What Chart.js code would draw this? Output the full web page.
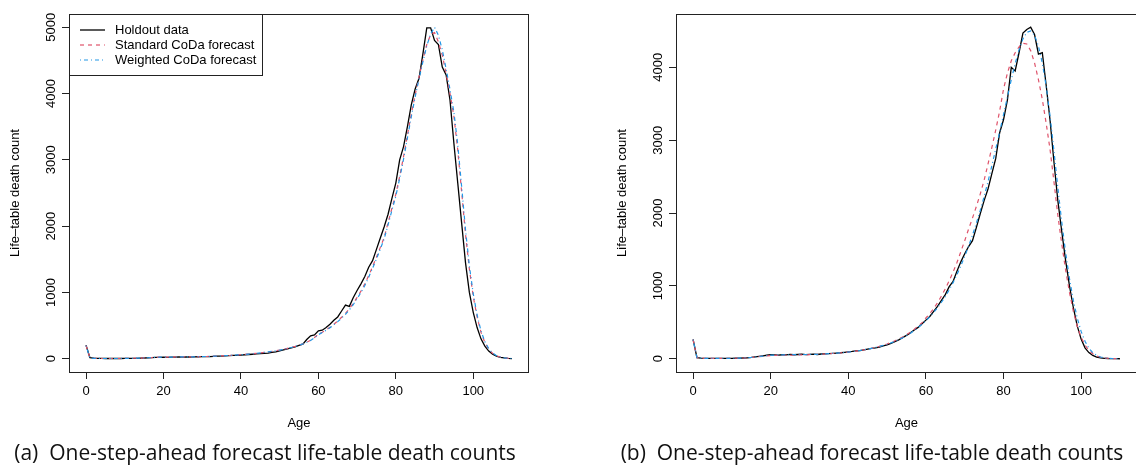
<!DOCTYPE html>
<html lang="en">
<head>
<meta charset="UTF-8">
<title>One-step-ahead forecast life-table death counts</title>
<script src="https://cdn.jsdelivr.net/npm/chart.js"></script>
<style>
  body { margin: 0; background: #fff; width: 1136px; height: 473px; overflow: hidden; position: relative; }
  .panel { position: absolute; top: 0; }
  .caption {
    position: absolute; top: 440px; height: 24px; line-height: 24px;
    font-family: "Open Sans", "Noto Sans", sans-serif; font-size: 21px; color: #111;
    white-space: pre; text-align: center;
  }
</style>
</head>
<body>
<div class="panel" style="left:0px"><canvas id="chartA" width="560" height="440"></canvas></div>
<div class="panel" style="left:607px"><canvas id="chartB" width="530" height="440"></canvas></div>
<div class="caption" style="left:0px;width:530px">(a)  One-step-ahead forecast life-table death counts</div>
<div class="caption" style="left:612px;width:520px">(b)  One-step-ahead forecast life-table death counts</div>

<script>
// ages 0..110
const ages = Array.from({ length: 111 }, (_, i) => i);
const xTicks = [0, 20, 40, 60, 80, 100];
const yTicksA = [0, 1000, 2000, 3000, 4000, 5000];
const yTicksB = [0, 1000, 2000, 3000, 4000];
const seriesNames = ['Holdout data', 'Standard CoDa forecast', 'Weighted CoDa forecast'];

// panel (a)
const holdoutA = [
  205, 15, 8, 6, 5, 4, 4, 4, 4, 4,
  5, 5, 6, 7, 9, 11, 14, 17, 20, 22,
  24, 22, 25, 24, 26, 25, 27, 26, 28, 30,
  31, 33, 32, 36, 38, 40, 44, 46, 50, 52,
  56, 60, 64, 68, 72, 76, 82, 85, 95, 105,
  120, 135, 150, 165, 180, 200, 220, 290, 345, 360,
  420, 430, 470, 520, 580, 630, 720, 810, 790, 920,
  1030, 1130, 1240, 1380, 1480, 1650, 1820, 1990, 2180, 2420,
  2650, 3000, 3200, 3500, 3830, 4070, 4230, 4600, 4990, 4990,
  4800, 4740, 4400, 4280, 3900, 3250, 2650, 2050, 1450, 1000,
  700, 470, 300, 190, 115, 70, 40, 22, 12, 6, 3
];
const standardA = [
  200, 12, 7, 5, 4, 4, 4, 4, 4, 4,
  5, 6, 7, 8, 10, 12, 15, 18, 21, 23,
  24, 25, 25, 26, 26, 27, 27, 28, 29, 30,
  32, 34, 36, 38, 40, 43, 46, 49, 53, 57,
  61, 66, 71, 76, 82, 88, 95, 102, 110, 120,
  131, 143, 156, 170, 186, 204, 225, 250, 280, 320,
  370, 400, 435, 475, 520, 570, 625, 685, 755, 835,
  925, 1020, 1130, 1255, 1390, 1530, 1680, 1830, 2050, 2270,
  2480, 2750, 3050, 3370, 3690, 3980, 4250, 4510, 4740, 4890,
  4920, 4780, 4580, 4300, 4000, 3660, 3150, 2520, 1880, 1350,
  940, 630, 400, 245, 145, 82, 45, 24, 12, 6, 3
];
const weightedA = [
  198, 11, 7, 5, 4, 4, 4, 4, 4, 4,
  5, 6, 7, 8, 10, 12, 15, 18, 21, 23,
  24, 25, 25, 26, 27, 27, 28, 28, 29, 31,
  32, 34, 36, 38, 41, 43, 46, 50, 53, 57,
  61, 66, 71, 77, 82, 88, 95, 103, 111, 120,
  130, 142, 155, 169, 185, 203, 224, 248, 276, 315,
  362, 395, 430, 468, 512, 560, 612, 670, 738, 815,
  905, 1000, 1105, 1230, 1365, 1505, 1655, 1810, 2020, 2240,
  2450, 2720, 3010, 3330, 3650, 3950, 4220, 4480, 4720, 4900,
  5000, 4880, 4660, 4370, 4060, 3720, 3230, 2600, 1950, 1400,
  980, 660, 420, 258, 152, 86, 47, 25, 13, 6, 3
];

// panel (b)
const holdoutB = [
  265, 15, 8, 6, 5, 5, 4, 4, 5, 5,
  6, 7, 8, 10, 13, 18, 25, 32, 40, 48,
  55, 52, 50, 55, 52, 60, 55, 58, 62, 56,
  60, 62, 58, 65, 68, 70, 74, 78, 82, 88,
  95, 100, 108, 112, 122, 132, 142, 150, 160, 175,
  190, 210, 235, 260, 290, 320, 355, 395, 430, 480,
  530, 580, 650, 720, 800, 880, 990, 1060, 1200, 1330,
  1440, 1540, 1620, 1800, 1990, 2170, 2330, 2540, 2750, 3100,
  3280, 3550, 4000, 3950, 4200, 4470, 4520, 4550, 4450, 4180,
  4200, 3750, 3270, 2700, 2170, 1750, 1350, 1000, 700, 450,
  270, 150, 85, 45, 22, 11, 6, 3, 2, 1, 0
];
const standardB = [
  262, 14, 8, 6, 5, 4, 4, 4, 5, 5,
  6, 7, 8, 10, 13, 17, 22, 28, 34, 40,
  44, 46, 47, 48, 49, 50, 51, 52, 53, 54,
  56, 58, 60, 62, 65, 68, 72, 76, 80, 85,
  91, 97, 104, 112, 121, 131, 142, 155, 169, 185,
  203, 223, 246, 271, 299, 330, 365, 404, 447, 496,
  560, 620, 690, 770, 860, 960, 1070, 1190, 1320, 1470,
  1620, 1780, 1930, 2090, 2260, 2450, 2670, 2900, 3140, 3400,
  3700, 3920, 4090, 4200, 4280, 4330, 4320, 4230, 4060, 3830,
  3560, 3230, 2870, 2430, 1970, 1580, 1220, 910, 650, 445,
  295, 188, 115, 68, 38, 21, 11, 6, 3, 2, 1
];
const weightedB = [
  263, 14, 8, 6, 5, 5, 4, 4, 5, 5,
  6, 7, 8, 10, 13, 17, 23, 30, 37, 44,
  49, 51, 52, 53, 54, 55, 56, 57, 57, 58,
  59, 60, 61, 63, 66, 69, 73, 77, 81, 86,
  92, 98, 105, 113, 122, 132, 143, 155, 168, 183,
  199, 217, 238, 262, 289, 318, 351, 388, 428, 473,
  522, 576, 636, 702, 775, 855, 945, 1045, 1155, 1275,
  1405, 1545, 1695, 1860, 2035, 2225, 2430, 2650, 2880, 3110,
  3350, 3590, 3830, 4050, 4240, 4390, 4480, 4500, 4440, 4290,
  4060, 3740, 3330, 2850, 2350, 1880, 1460, 1100, 800, 560,
  375, 240, 145, 84, 46, 24, 12, 6, 3, 2, 1
];

const FONT = 'Liberation Sans, Arial, Helvetica, sans-serif';
const FSIZE = 13;
const lineStyles = [
  { color: '#000000', dash: [], width: 1.3 },
  { color: '#DF536B', dash: [4, 4], width: 1.2 },
  { color: '#2297E6', dash: [1, 3, 4, 3], width: 1.2 }
];

// R-like frame: box, rotated y tick labels, optional legend
const rFrame = {
  id: 'rFrame',
  afterDraw(chart, args, opts) {
    const { ctx, chartArea: a, scales: { y } } = chart;
    ctx.save();
    ctx.strokeStyle = '#222';
    ctx.lineWidth = 1;
    ctx.setLineDash([]);
    const L = Math.round(a.left) + 0.5, R = Math.round(a.right) - 0.5;
    const T = Math.round(a.top) + 0.5, B = Math.round(a.bottom) + 0.5;
    ctx.strokeRect(L, T, R - L, B - T);

    // y tick labels, vertical as in base R
    ctx.fillStyle = '#000';
    ctx.font = FSIZE + 'px ' + FONT;
    ctx.textAlign = 'center';
    ctx.textBaseline = 'middle';
    opts.yTicks.forEach(v => {
      ctx.save();
      ctx.translate(opts.labelX, y.getPixelForValue(v));
      ctx.rotate(-Math.PI / 2);
      ctx.fillText(String(v), 0, 0);
      ctx.restore();
    });

    if (opts.legend) {
      ctx.fillStyle = '#fff';
      ctx.fillRect(L, T, 193, 61);
      ctx.strokeRect(L, T, 193, 61);
      seriesNames.forEach((name, i) => {
        const ly = 30 + i * 15;
        const st = lineStyles[i];
        ctx.strokeStyle = st.color;
        ctx.lineWidth = st.width;
        ctx.setLineDash(st.dash);
        ctx.beginPath();
        ctx.moveTo(80, ly);
        ctx.lineTo(105, ly);
        ctx.stroke();
        ctx.fillStyle = '#000';
        ctx.textAlign = 'left';
        ctx.fillText(name, 115, ly);
      });
    }
    ctx.restore();
  }
};

function makeChart(id, series, yMin, yMax, yTicks, rightPad, legend) {
  const datasets = series.map((vals, i) => ({
    label: seriesNames[i],
    data: ages.map((a, k) => ({ x: a, y: vals[k] })),
    borderColor: lineStyles[i].color,
    borderDash: lineStyles[i].dash,
    borderWidth: lineStyles[i].width,
    pointRadius: 0,
    tension: 0,
    fill: false,
    order: 3 - i
  }));
  return new Chart(document.getElementById(id), {
    type: 'line',
    data: { datasets },
    plugins: [rFrame],
    options: {
      responsive: false,
      animation: false,
      events: [],
      layout: { padding: { top: 14, right: rightPad, left: 0, bottom: 0 } },
      plugins: {
        legend: { display: false },
        tooltip: { enabled: false },
        rFrame: { yTicks, labelX: 51, legend }
      },
      scales: {
        x: {
          type: 'linear',
          min: -4.4,
          max: 114.4,
          afterBuildTicks: s => { s.ticks = xTicks.map(v => ({ value: v })); },
          afterFit: s => { s.height = 68; },
          grid: { drawOnChartArea: false, drawTicks: true, tickLength: 7, color: '#222' },
          border: { display: false },
          ticks: { color: '#000', padding: 5, maxRotation: 0, font: { family: FONT, size: FSIZE } },
          title: { display: true, text: 'Age', color: '#000', padding: { top: 0, bottom: 9 }, font: { family: FONT, size: FSIZE } }
        },
        y: {
          type: 'linear',
          min: yMin,
          max: yMax,
          afterBuildTicks: s => { s.ticks = yTicks.map(v => ({ value: v })); },
          afterFit: s => { s.width = 69; },
          grid: { drawOnChartArea: false, drawTicks: true, tickLength: 7, color: '#222' },
          border: { display: false },
          ticks: { display: false },
          title: { display: true, text: 'Life\u2013table death count', color: '#000', padding: { top: 8, bottom: 0 }, font: { family: FONT, size: FSIZE } }
        }
      }
    }
  });
}

makeChart('chartA', [holdoutA, standardA, weightedA], -200, 5200, yTicksA, 31, true);
makeChart('chartB', [holdoutB, standardB, weightedB], -182, 4732, yTicksB, 0, false);
</script>
</body>
</html>
